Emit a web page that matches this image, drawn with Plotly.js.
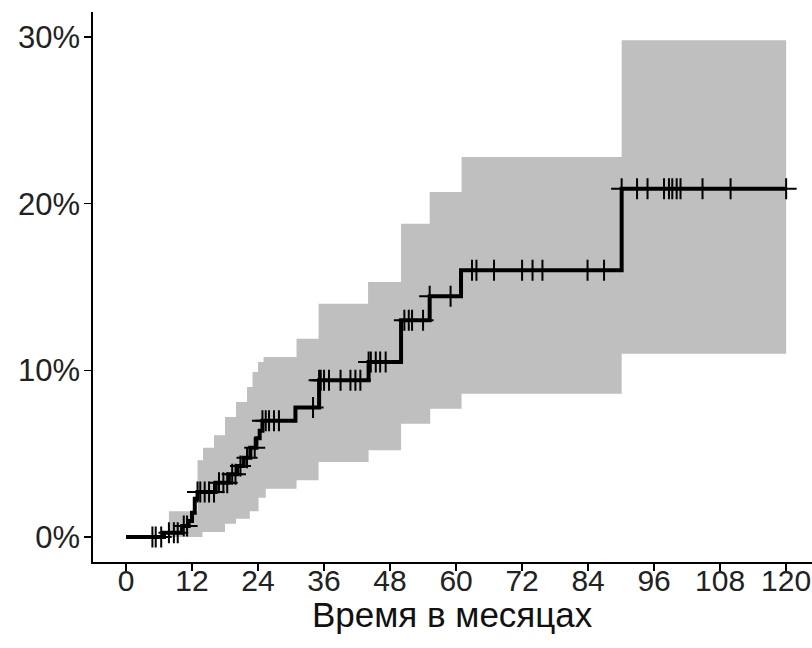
<!DOCTYPE html>
<html><head><meta charset="utf-8">
<script src="https://cdn.plot.ly/plotly-3.0.1.min.js"></script>
<style>body{margin:0;background:#fff}</style>
</head><body><div id="chart" style="width:812px;height:648px"></div>
<script>
// Cumulative incidence step curve (months, %)
const eventTimes   = [0, 6.9, 10.2, 11.4, 12.0, 12.5, 13.0, 16.3, 18.7, 20.2, 21.4, 22.6, 23.7, 24.3, 24.8, 30.8, 35.1, 44.1, 50.0, 55.2, 60.9, 90.1];
const cumIncidence = [0, 0.26, 0.66, 0.96, 1.46, 2.3, 2.7, 3.26, 3.76, 4.26, 4.76, 5.36, 5.93, 6.37, 6.97, 7.77, 9.4, 10.5, 13.0, 14.45, 16.0, 20.9];
const followUpEnd = 120;

// Censoring times (months)
const censorTimes = [4.8, 5.4, 6.4, 7.8, 8.7, 9.4, 10.5, 11.1, 13.0, 13.5, 14.3, 15.1, 16.0, 16.9, 17.7, 18.4,
  19.3, 19.9, 20.8, 22.0, 23.4, 24.8, 25.4, 26.0, 26.9, 27.8, 34.0, 35.1, 35.4, 36.0, 36.9, 39.0, 40.8, 41.7, 42.6,
  44.1, 44.5, 45.4, 46.2, 47.2, 50.6, 51.4, 52.0, 54.0, 55.2, 59.0, 62.9, 63.7, 66.9, 72.0, 73.9, 75.7, 83.9, 86.9,
  90.1, 92.9, 94.8, 97.8, 98.7, 99.3, 100.1, 100.8, 104.8, 109.9, 120];

// Confidence band (step functions)
const upperTimes  = [7.8, 13.0, 14.0, 16.0, 18.0, 20.0, 22.0, 23.0, 24.0, 25.0, 31.0, 35.0, 44.0, 50.0, 55.2, 61.0, 90.1, 120];
const upperValues = [1.55, 4.6, 5.35, 6.1, 7.2, 8.1, 9.0, 9.9, 10.5, 10.8, 11.9, 14.0, 15.3, 18.8, 20.7, 22.8, 29.8, 29.8];
const lowerTimes  = [7.8, 13.9, 18.0, 20.0, 22.5, 24.1, 25.4, 31.0, 35.0, 44.1, 50.0, 55.3, 61.0, 90.1, 120];
const lowerValues = [0, 0.3, 0.8, 1.1, 1.55, 2.35, 2.9, 3.4, 4.5, 5.2, 6.8, 7.7, 8.6, 11.0, 11.0];

const xTicks = [0, 12, 24, 36, 48, 60, 72, 84, 96, 108, 120];
const yTicks = [0, 10, 20, 30];
const yTickText = ['0%', '10%', '20%', '30%'];
const xTitle = 'Время в месяцах';

function levelAt(t) {
  let v = 0;
  for (let i = 0; i < eventTimes.length; i++) if (eventTimes[i] <= t) v = cumIncidence[i];
  return v;
}
const curveX = eventTimes.concat([followUpEnd]);
const curveY = cumIncidence.concat([cumIncidence[cumIncidence.length - 1]]);
const censorY = censorTimes.map(levelAt);

const fontFam = 'Liberation Sans, Arial, sans-serif';
const traces = [
  {x: lowerTimes, y: lowerValues, mode: 'lines', line: {shape: 'hv', width: 0, color: 'rgba(0,0,0,0)'}, hoverinfo: 'skip', showlegend: false},
  {x: upperTimes, y: upperValues, mode: 'lines', line: {shape: 'hv', width: 0, color: 'rgba(0,0,0,0)'}, fill: 'tonexty', fillcolor: '#bfbfbf', hoverinfo: 'skip', showlegend: false},
  {x: curveX, y: curveY, mode: 'lines', line: {shape: 'hv', width: 4, color: '#000'}, showlegend: false},
  {x: censorTimes, y: censorY, mode: 'markers', marker: {symbol: 'cross-thin', size: 15, line: {width: 2, color: '#000'}, color: '#000'}, showlegend: false}
];
const layout = {
  width: 812, height: 648,
  margin: {l: 93, r: 0, t: 12, b: 86},
  paper_bgcolor: '#fff', plot_bgcolor: '#fff',
  showlegend: false,
  xaxis: {range: [-6, 124.7], tickvals: xTicks, ticktext: xTicks.map(String), showgrid: false, zeroline: false,
    showline: true, linecolor: '#000', linewidth: 1.8, ticks: 'outside', ticklen: 7, tickwidth: 1.5, tickcolor: '#000',
    ticklabeloverflow: 'allow', ticklabelstandoff: -16,
    tickfont: {family: fontFam, size: 30, color: '#222'}},
  yaxis: {range: [-1.5, 31.5], tickvals: yTicks, ticktext: yTickText, showgrid: false, zeroline: false,
    showline: true, linecolor: '#000', linewidth: 1.8, ticks: 'outside', ticklen: 7, tickwidth: 1.5, tickcolor: '#000',
    ticklabelstandoff: -2,
    tickfont: {family: fontFam, size: 31, color: '#222'}},
  annotations: [{text: xTitle, xref: 'paper', yref: 'paper', x: 0.5, y: -0.095, xanchor: 'center', yanchor: 'middle',
    showarrow: false, font: {family: fontFam, size: 35, color: '#111'}}]
};
Plotly.newPlot('chart', traces, layout, {displayModeBar: false, staticPlot: true});
</script></body></html>
